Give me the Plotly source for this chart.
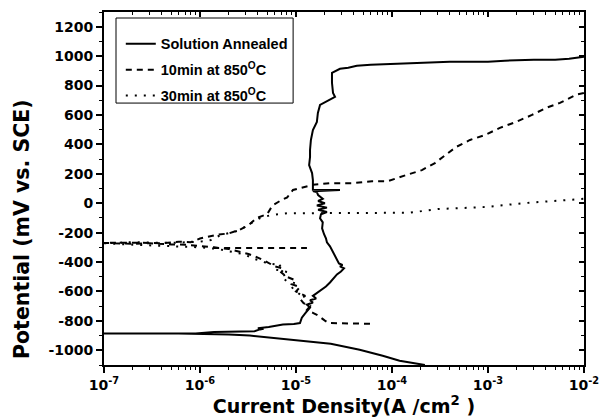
import plotly.graph_objects as go

# ---------------- data (current density A/cm^2, potential mV vs SCE) ----------------
# Solution Annealed (solid): cathodic branch -> Ecorr -> anodic/passive branch
sa_current = [2.2e-4, 1.7e-4, 1.2e-4, 8.0e-5, 4.6e-5, 2.3e-5, 1.1e-5, 6.0e-6, 3.3e-6, 2.0e-6,
              1.2e-6, 6.0e-7, 3.0e-7, 1.0e-7,
              3.0e-7, 6.0e-7, 9.0e-7, 1.4e-6, 2.2e-6, 3.0e-6, 3.7e-6, 4.2e-6, 4.6e-6, 4.0e-6,
              5.2e-6, 7.3e-6, 9.5e-6, 1.1e-5, 1.15e-5,
              1.24e-5, 1.40e-5, 1.30e-5, 1.50e-5, 1.40e-5, 1.62e-5, 1.50e-5, 1.69e-5, 1.87e-5,
              2.05e-5, 2.26e-5, 2.43e-5, 2.67e-5, 2.94e-5, 3.16e-5, 2.87e-5, 3.05e-5, 2.80e-5,
              2.67e-5, 2.55e-5, 2.37e-5, 2.26e-5, 2.10e-5, 2.05e-5, 1.96e-5, 1.87e-5, 1.90e-5,
              1.78e-5, 1.82e-5, 2.10e-5, 1.70e-5, 2.10e-5, 1.65e-5, 2.00e-5, 1.70e-5, 1.90e-5,
              1.70e-5, 1.65e-5, 1.50e-5, 2.87e-5, 1.50e-5, 1.50e-5, 1.47e-5, 1.37e-5, 1.40e-5,
              1.40e-5, 1.43e-5, 1.50e-5, 1.65e-5, 1.69e-5, 1.78e-5, 2.26e-5, 2.55e-5, 2.43e-5,
              2.37e-5, 2.37e-5, 2.60e-5, 2.87e-5, 3.5e-5, 4.3e-5, 6.0e-5, 1.0e-4, 2.0e-4, 4.0e-4,
              1.0e-3, 1.5e-3, 3.0e-3, 5.0e-3, 7.0e-3, 1.0e-2]
sa_potential = [-1100, -1088, -1071, -1037, -996, -955, -934, -914, -900, -893,
                -888, -886, -886, -886,
                -886, -886, -885, -876, -873, -872, -870, -858, -853, -850,
                -842, -825, -822, -815, -778,
                -750, -709, -690, -675, -660, -648, -630, -607, -587,
                -566, -539, -512, -484, -464, -443, -430, -420, -409,
                -382, -355, -321, -293, -266, -239, -211, -171, -130,
                -102, -75, -60, -45, -30, -15, 0, 15, 30,
                55, 75, 82, 89, 92, 157, 205, 259, 314,
                362, 430, 498, 553, 614, 668, 703, 723, 750,
                819, 887, 900, 914, 921, 934, 941, 948, 955, 962,
                962, 969, 975, 975, 982, 996]

# 10 min at 850 C (dashed)
m10_current = [5.9e-5, 4.0e-5, 2.8e-5, 2.2e-5, 2.0e-5, 1.7e-5, 1.5e-5, 1.3e-5, 1.4e-5, 1.2e-5,
               1.1e-5, 1.25e-5, 1.0e-5, 1.1e-5, 9.0e-6, 9.5e-6, 8.0e-6, 7.0e-6, 7.5e-6, 6.0e-6,
               5.0e-6, 4.5e-6, 4.0e-6, 3.2e-6, 2.6e-6, 2.0e-6, 1.4e-6, 1.0e-6, 7.0e-7, 5.0e-7,
               3.0e-7, 2.0e-7, 1.0e-7,
               2.0e-7, 4.0e-7, 6.0e-7, 8.0e-7, 1.0e-6, 1.5e-6, 2.0e-6, 2.6e-6, 3.2e-6, 3.9e-6,
               5.0e-6, 5.7e-6, 7.0e-6, 8.1e-6, 9.3e-6, 1.2e-5, 1.5e-5, 2.26e-5, 3.83e-5, 6.19e-5,
               9.08e-5, 1.40e-4, 2.05e-4, 2.8e-4, 3.57e-4, 4.64e-4, 6.49e-4, 9.3e-4, 1.33e-3,
               1.96e-3, 2.87e-3, 4.02e-3, 5.62e-3, 8.26e-3, 1.0e-2,
               None, 1.37e-6, 1.3e-5]
m10_potential = [-820, -820, -820, -815, -798, -764, -745, -725, -700, -680,
                 -650, -630, -600, -570, -550, -520, -500, -470, -445, -430,
                 -400, -385, -370, -345, -330, -312, -300, -290, -282, -280,
                 -272, -276, -270,
                 -268, -272, -262, -265, -240, -215, -205, -180, -150, -100,
                 -75, -15, 20, 40, 90, 110, 125, 136, 136, 150,
                 150, 191, 225, 273, 327, 382, 430, 464, 512,
                 553, 600, 648, 682, 737, 750,
                 None, -305, -305]

# 30 min at 850 C (dotted)
m30_current = [1.1e-5, 1.0e-5, 9.0e-6, 1.0e-5, 8.0e-6, 7.0e-6, 8.5e-6, 6.0e-6, 7.0e-6, 5.0e-6,
               4.5e-6, 3.5e-6, 3.0e-6, 2.2e-6, 1.5e-6, 1.0e-6, 6.0e-7, 4.0e-7, 2.0e-7, 1.0e-7,
               2.0e-7, 5.0e-7, 1.0e-6, 1.3e-6, 1.62e-6, 2.1e-6, 2.6e-6, 3.1e-6, 4.2e-6, 5.4e-6,
               8.1e-6, 1.1e-5, 3.0e-5, 1.0e-4, 1.5e-4, 3.0e-4, 1.0e-3, 2.3e-3, 5.0e-3, 1.0e-2]
m30_potential = [-620, -600, -570, -545, -530, -500, -470, -450, -420, -410,
                 -395, -375, -350, -330, -310, -300, -295, -290, -282, -272,
                 -265, -270, -262, -250, -218, -200, -184, -150, -102, -82,
                 -68, -68, -68, -65, -65, -40, -25, 0, 15, 30]

series_names = ["Solution Annealed", "10min at 850<sup>O</sup>C", "30min at 850<sup>O</sup>C"]
x_title = "Current Density(A /cm<sup>2</sup> )"
y_title = "Potential (mV vs. SCE)"

x_tickvals = [1e-7, 1e-6, 1e-5, 1e-4, 1e-3, 1e-2]
x_ticktext = ["10<sup>-7</sup>", "10<sup>-6</sup>", "10<sup>-5</sup>",
              "10<sup>-4</sup>", "10<sup>-3</sup>", "10<sup>-2</sup>"]
x_minor = [k * d for d in [1e-7, 1e-6, 1e-5, 1e-4, 1e-3] for k in range(2, 10)]
y_tickvals = [-1000, -800, -600, -400, -200, 0, 200, 400, 600, 800, 1000, 1200]
y_ticktext = ["-1000", "-800", "-600", "-400", "-200", "0", "200", "400", "600", "800", "1000", "1200"]

FONT = "Liberation Sans, Arial, Helvetica, sans-serif"
WIDE = "DejaVu Sans, Verdana, sans-serif"

def bold(s):
    return "<b>" + s + "</b>"

fig = go.Figure()
fig.add_trace(go.Scatter(x=sa_current, y=sa_potential, mode="lines", name=bold(series_names[0]),
                         legendgroup="a", line=dict(color="black", width=2)))
fig.add_trace(go.Scatter(x=m10_current, y=m10_potential, mode="lines", name=bold(series_names[1]),
                         legendgroup="b", line=dict(color="black", width=2, dash="6px,5px"),
                         connectgaps=False))
fig.add_trace(go.Scatter(x=m30_current, y=m30_potential, mode="lines", name=bold(series_names[2]),
                         legendgroup="c", line=dict(color="black", width=2, dash="2px,7px")))
# carrier for the mirrored (top / right) axes
fig.add_trace(go.Scatter(x=[None], y=[None], xaxis="x2", yaxis="y2", showlegend=False, hoverinfo="skip"))

axis_common = dict(showline=True, linewidth=2, linecolor="black", showgrid=False, zeroline=False,
                   automargin=False)

fig.update_layout(
    width=599, height=417,
    margin=dict(l=104, r=15, t=12, b=52),
    paper_bgcolor="white", plot_bgcolor="white",
    font=dict(family=FONT, color="black"),
    xaxis=dict(type="log", range=[-7, -2], tickmode="array", tickvals=x_tickvals,
               ticktext=[bold(t) for t in x_ticktext], ticklabeloverflow="allow",
               ticks="outside", ticklen=6, tickwidth=1.5, tickcolor="black",
               tickfont=dict(size=14, family=WIDE),
               minor=dict(tickmode="array", tickvals=x_minor, ticks="outside", ticklen=3,
                          tickwidth=1, tickcolor="black", showgrid=False),
               title=dict(text=bold(x_title), font=dict(size=19, family=WIDE), standoff=1),
               **axis_common),
    yaxis=dict(range=[-1100, 1300], tickmode="array", tickvals=y_tickvals,
               ticktext=[bold(t) for t in y_ticktext], ticklabeloverflow="allow",
               ticks="outside", ticklen=6, tickwidth=1.5, tickcolor="black",
               tickfont=dict(size=14, family=WIDE),
               minor=dict(dtick=100, tick0=0, ticks="outside", ticklen=3, tickwidth=1,
                          tickcolor="black", showgrid=False),
               **axis_common),
    xaxis2=dict(type="log", range=[-7, -2], overlaying="x", side="top", anchor="y",
                tickmode="array", tickvals=x_tickvals, ticks="inside", ticklen=5, tickwidth=1.5,
                tickcolor="black", showticklabels=False,
                minor=dict(tickmode="array", tickvals=x_minor, ticks="inside", ticklen=3,
                           tickwidth=1, tickcolor="black", showgrid=False),
                **axis_common),
    yaxis2=dict(range=[-1100, 1300], overlaying="y", side="right", anchor="x",
                tickmode="array", tickvals=y_tickvals, ticks="inside", ticklen=5, tickwidth=1.5,
                tickcolor="black", showticklabels=False,
                minor=dict(dtick=100, tick0=0, ticks="inside", ticklen=3, tickwidth=1,
                           tickcolor="black", showgrid=False),
                **axis_common),
    legend=dict(x=0.035, y=0.955, xanchor="left", yanchor="top", borderwidth=0,
                bgcolor="rgba(0,0,0,0)", font=dict(size=14.5, family=FONT), tracegroupgap=4,
                itemwidth=30),
    shapes=[dict(type="rect", xref="paper", yref="paper", x0=0.025, x1=0.394, y0=0.742, y1=0.983,
                 line=dict(color="black", width=1), fillcolor="white", layer="above")],
    annotations=[dict(text=bold(y_title), xref="paper", yref="paper", x=-0.171, y=0.385,
                      xanchor="center", yanchor="middle", textangle=-90, showarrow=False,
                      font=dict(size=20.5, family=WIDE))],
)

fig.write_html("out.html")
